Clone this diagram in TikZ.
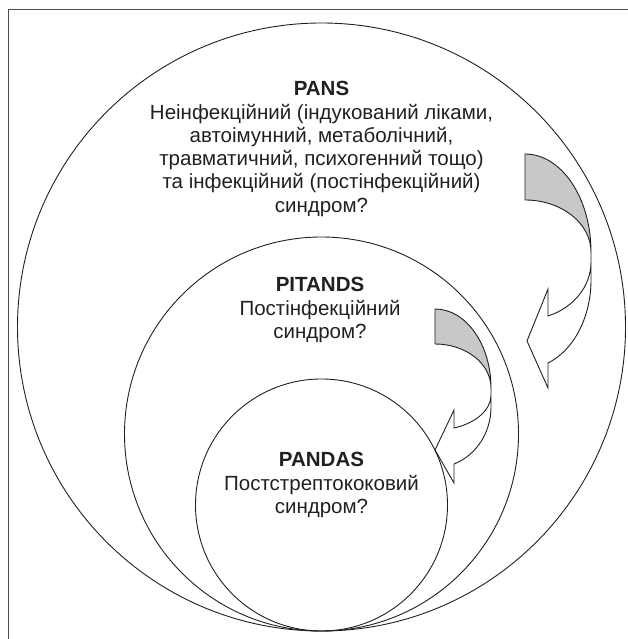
\documentclass[tikz,border=0pt]{standalone}
\usepackage{fontspec}
\setmainfont{Liberation Sans}
\definecolor{band}{HTML}{C8C8C8}
\definecolor{ink}{HTML}{231F20}
\definecolor{frameline}{HTML}{4D4D4D}
\begin{document}
\begin{tikzpicture}
[x=1pt,y=1pt,
  ring/.style={shape=circle,inner sep=0pt,draw=ink,line width=0.9pt},
  caption/.style={align=center,inner sep=0pt,text=ink,font=\fontsize{20.5}{23.3}\selectfont},
  backpart/.style={fill=band,draw=ink,line width=0.9pt,line join=round},
  frontpart/.style={draw=ink,line width=0.9pt,line join=miter}]
\useasboundingbox (0,0) rectangle (628,639);
%% frame corner
\coordinate (topend) at (628,629.5);
\coordinate (corner) at (8.5,629.5);
\coordinate (bottomend) at (8.5,0);
\draw[frameline,line width=1.5pt] (topend) -- (corner) -- (bottomend);
%% nested circles
\foreach \ringname/\y/\r in {pans/312/304, pitands/205/197, pandas/134/126}
{
  \node (\ringname) at (321.5,\y) [ring,minimum size=2*\r] {};
}
%% captions
\node (panstext) at (321.5,490) [caption] {\textbf{PANS}\\
  Неінфекційний (індукований ліками,\\ автоімунний, метаболічний,\\
  травматичний, психогенний тощо)\\ та інфекційний (постінфекційний)\\ синдром?};
\node (pitandstext) at (320,329) [caption] {\textbf{PITANDS}\\ Постінфекційний\\ синдром?};
\node (pandastext) at (321.5,154) [caption] {\textbf{PANDAS}\\ Постстрептококовий\\ синдром?};
%% big curved arrow
\draw[backpart] (525,485) arc[start angle=90,end angle=0,x radius=66,y radius=98]
  arc[start angle=0,end angle=90,x radius=66,y radius=52] -- cycle;
\draw[frontpart] (591,387) -- (591,359)
  arc[start angle=0,end angle=-69.6,x radius=66,y radius=88.6]
  -- (548,251) -- (527,298) -- (548,350) -- (548,323)
  arc[start angle=-69.6,end angle=0,x radius=66,y radius=57.6];
%% small curved arrow
\draw[backpart] (435,330) arc[start angle=90,end angle=0,x radius=56,y radius=79]
  arc[start angle=0,end angle=90,x radius=56,y radius=44] -- cycle;
\draw[frontpart] (491,251) -- (491,232)
  arc[start angle=0,end angle=-70.2,x radius=56,y radius=60.6]
  -- (454,156) -- (435,189) -- (454,229) -- (454,211)
  arc[start angle=-70.2,end angle=0,x radius=56,y radius=35.1];
\end{tikzpicture}
\end{document}
